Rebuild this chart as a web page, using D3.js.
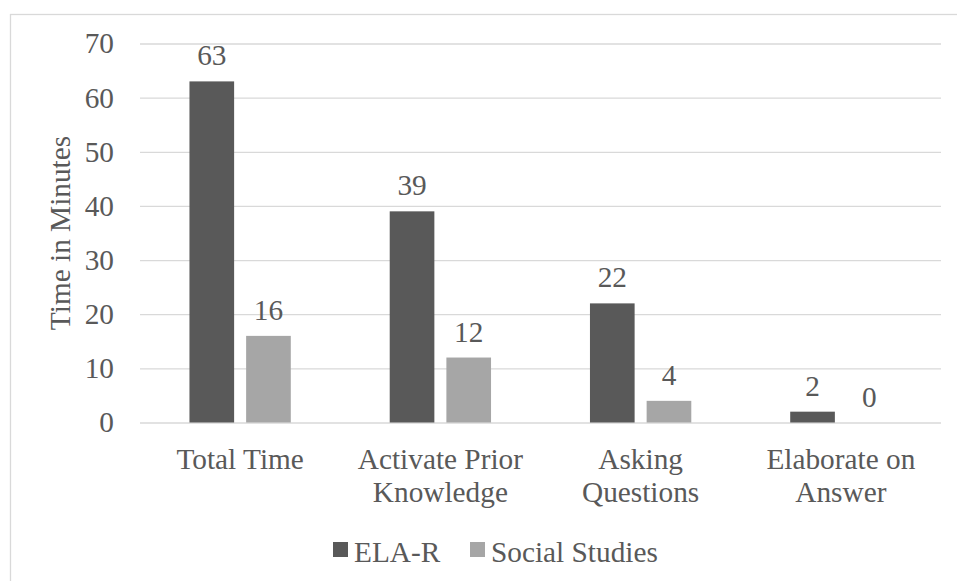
<!DOCTYPE html>
<html>
<head>
<meta charset="utf-8">
<script src="https://cdn.jsdelivr.net/npm/d3@7"></script>
<style>
  html, body { margin: 0; padding: 0; background: #fff; }
  svg { display: block; }
</style>
</head>
<body>
<svg id="chart" width="957" height="581"></svg>
<script>
// Minutes spent per strategy, by subject
const categories = [["Total Time"], ["Activate Prior", "Knowledge"], ["Asking", "Questions"], ["Elaborate on", "Answer"]];
const seriesNames = ["ELA-R", "Social Studies"];
const elaR = [63, 39, 22, 2];
const socialStudies = [16, 12, 4, 0];
const yTicks = [0, 10, 20, 30, 40, 50, 60, 70];
const colors = ["#595959", "#a6a6a6"];

const FONT = "Liberation Serif";
const TEXT_COLOR = "#595959";
const fontSize = 29.3;
const svg = d3.select("#chart");

// Outer chart frame
svg.append("rect")
  .attr("x", 10.5).attr("y", 14.5)
  .attr("width", 960).attr("height", 620)
  .attr("fill", "none").attr("stroke", "#d9d9d9").attr("stroke-width", 1.3);

const plot = { left: 140, right: 941, top: 43.5, bottom: 422.5 };

const x = d3.scaleBand()
  .domain(d3.range(categories.length))
  .range([plot.left, plot.right])
  .paddingInner(0).paddingOuter(0);

const barW = x.bandwidth() * 0.223;
const gap = x.bandwidth() * 0.06;
const xs = d3.scaleBand().domain([0, 1]).range([0, barW * 2 + gap]).paddingInner(gap / (barW + gap));

const y = d3.scaleLinear().domain([0, 70]).range([plot.bottom, plot.top]);

// Gridlines and y labels via axis
const yAxis = d3.axisLeft(y).tickValues(yTicks).tickSize(-(plot.right - plot.left)).tickPadding(26).tickFormat(d3.format("d"));
const gy = svg.append("g").attr("transform", `translate(${plot.left},0)`).call(yAxis)
  .attr("font-family", FONT).attr("font-size", fontSize);
gy.select(".domain").remove();
gy.selectAll(".tick line").attr("stroke", "#d9d9d9").attr("stroke-width", 1.3);
gy.selectAll(".tick text").attr("fill", TEXT_COLOR);

// Y axis title
svg.append("text")
  .attr("transform", `translate(70, ${(plot.top + plot.bottom) / 2}) rotate(-90)`)
  .attr("text-anchor", "middle")
  .attr("font-family", FONT)
  .attr("font-size", fontSize)
  .attr("fill", TEXT_COLOR)
  .text("Time in Minutes");

// Bars with value labels
const series = [elaR, socialStudies];
const groupOffset = (x.bandwidth() - (barW * 2 + gap)) / 2;
series.forEach((vals, si) => {
  const g = svg.append("g");
  g.selectAll("rect").data(vals).join("rect")
    .attr("x", (d, i) => x(i) + groupOffset + xs(si))
    .attr("y", d => y(d))
    .attr("width", xs.bandwidth())
    .attr("height", d => y(0) - y(d))
    .attr("fill", colors[si]);
  g.selectAll("text").data(vals).join("text")
    .attr("x", (d, i) => x(i) + groupOffset + xs(si) + xs.bandwidth() / 2)
    .attr("y", d => y(d) - 16)
    .attr("text-anchor", "middle")
    .attr("font-family", FONT)
    .attr("font-size", fontSize)
    .attr("fill", TEXT_COLOR)
    .text(d => d);
});

// Category labels
const catG = svg.append("g");
categories.forEach((lines, i) => {
  const t = catG.append("text")
    .attr("text-anchor", "middle")
    .attr("font-family", FONT)
    .attr("font-size", fontSize)
    .attr("fill", TEXT_COLOR);
  lines.forEach((ln, j) => {
    t.append("tspan")
      .attr("x", x(i) + x.bandwidth() / 2)
      .attr("y", 469 + j * 33)
      .text(ln);
  });
});

// Legend
const legendItems = [{ name: seriesNames[0], x: 333 }, { name: seriesNames[1], x: 470 }];
legendItems.forEach((it, i) => {
  svg.append("rect")
    .attr("x", it.x).attr("y", 542)
    .attr("width", 15).attr("height", 15)
    .attr("fill", colors[i]);
  svg.append("text")
    .attr("x", it.x + 21).attr("y", 562)
    .attr("font-family", FONT)
    .attr("font-size", fontSize)
    .attr("fill", TEXT_COLOR)
    .text(it.name);
});
</script>
</body>
</html>
